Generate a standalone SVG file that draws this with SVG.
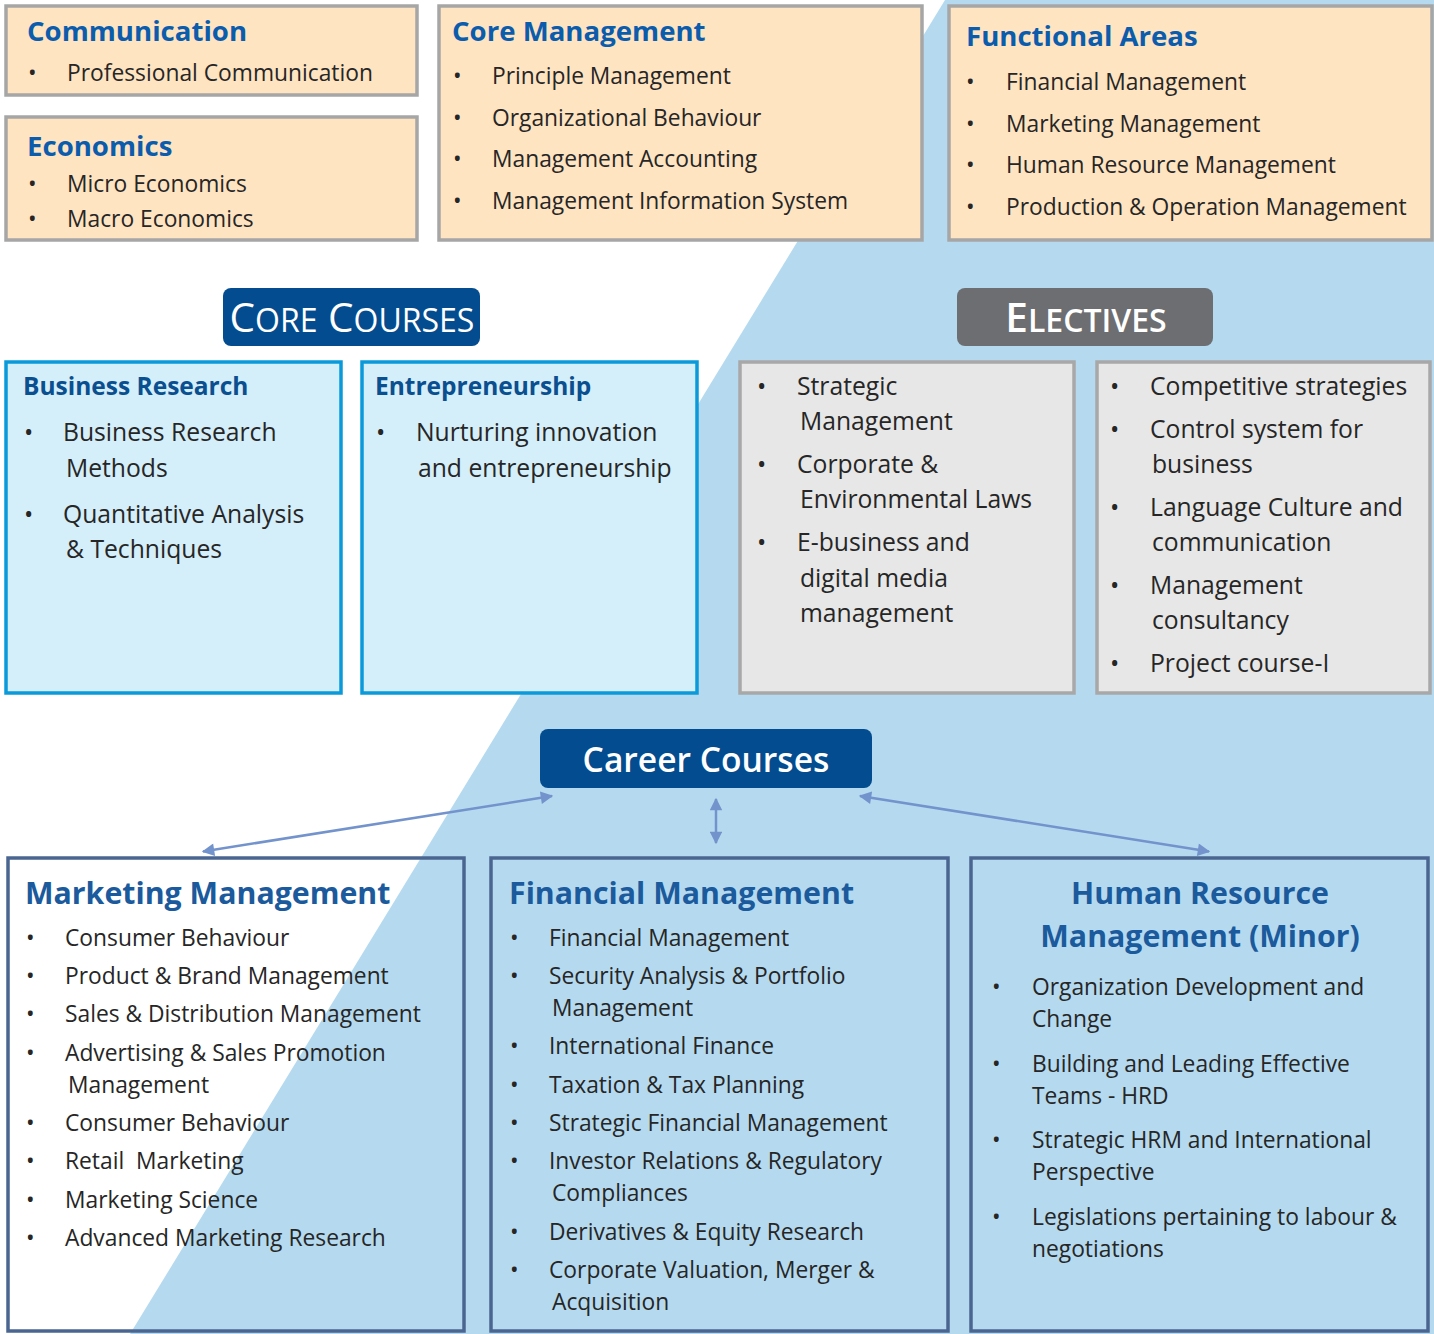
<svg xmlns="http://www.w3.org/2000/svg" width="1434" height="1334" viewBox="0 0 1434 1334">
<defs>
<style>
text{font-family:"Open Sans","Noto Sans","DejaVu Sans",sans-serif;fill:#262626;font-size:22.8px}
.peach{fill:#FFE4C2;stroke:#A6A6A6;stroke-width:3.5}
.cbox{fill:#D4EEFA;stroke:#0A9ADA;stroke-width:3.5}
.ebox{fill:#E7E7E7;stroke:#A8A8A8;stroke-width:3.5}
.bbox{fill:none;stroke:#4B6591;stroke-width:3.5}
.t1{font-weight:bold;fill:#0B5CAD;font-size:27.6px}
.t2{font-weight:bold;fill:#0A4F8F;font-size:24.5px}
.t3{font-weight:bold;fill:#1B5A9C;font-size:30.3px}
.big{font-size:24.7px}
.pill{fill:#034C8F}
.conn{stroke:#7393CC;stroke-width:2.5;fill:none;marker-start:url(#ah);marker-end:url(#ah)}
</style>
<marker id="ah" viewBox="0 0 10 10" refX="9" refY="5" markerWidth="6" markerHeight="5" orient="auto-start-reverse" markerUnits="strokeWidth">
<path d="M0,0 L10,5 L0,10 z" fill="#7393CC"/>
</marker>
</defs>
<rect x="0" y="0" width="1434" height="1334" fill="#FFFFFF"/>
<polygon points="945,0 1434,0 1434,1334 130,1334" fill="#B5DAEF"/>

<g id="communication">
<rect class="peach" x="6" y="6" width="411" height="89"/>
<text class="t1" x="27" y="41">Communication</text>
<text x="28" y="81">•</text><text x="67" y="81">Professional Communication</text>
</g>
<g id="economics">
<rect class="peach" x="6" y="117" width="411" height="123"/>
<text class="t1" x="27" y="156">Economics</text>
<text x="28" y="192">•</text><text x="67" y="192">Micro Economics</text>
<text x="28" y="227">•</text><text x="67" y="227">Macro Economics</text>
</g>
<g id="core-management">
<rect class="peach" x="439" y="6" width="483" height="234"/>
<text class="t1" x="452" y="41">Core Management</text>
<text x="453" y="84">•</text><text x="492" y="84">Principle Management</text>
<text x="453" y="126">•</text><text x="492" y="126">Organizational Behaviour</text>
<text x="453" y="167">•</text><text x="492" y="167">Management Accounting</text>
<text x="453" y="209">•</text><text x="492" y="209">Management Information System</text>
</g>
<g id="functional-areas">
<rect class="peach" x="949" y="6" width="483" height="234"/>
<text class="t1" x="966" y="46">Functional Areas</text>
<text x="966" y="90">•</text><text x="1006" y="90">Financial Management</text>
<text x="966" y="132">•</text><text x="1006" y="132">Marketing Management</text>
<text x="966" y="173">•</text><text x="1006" y="173">Human Resource Management</text>
<text x="966" y="215">•</text><text x="1006" y="215">Production &amp; Operation Management</text>
</g>

<g id="core-courses">
<rect class="pill" x="223" y="288" width="257" height="58" rx="8"/>
<text x="352" y="332" text-anchor="middle" style="fill:#FFFFFF;font-size:40.5px"><tspan>C</tspan><tspan style="font-size:32px">ORE</tspan> <tspan>C</tspan><tspan style="font-size:32px">OURSES</tspan></text>
</g>
<g id="electives">
<rect x="957" y="288" width="256" height="58" rx="8" fill="#6D6E71"/>
<text x="1086" y="332" text-anchor="middle" style="fill:#FFFFFF;font-size:40.5px;font-weight:600"><tspan>E</tspan><tspan style="font-size:32px">LECTIVES</tspan></text>
</g>

<g id="business-research">
<rect class="cbox" x="6" y="362" width="335" height="331"/>
<text class="t2" x="23" y="395">Business Research</text>
<text class="big" x="24" y="441">•</text><text class="big" x="63" y="441">Business Research</text>
<text class="big" x="66" y="477">Methods</text>
<text class="big" x="24" y="523">•</text><text class="big" x="63" y="523">Quantitative Analysis</text>
<text class="big" x="66" y="558">&amp; Techniques</text>
</g>
<g id="entrepreneurship">
<rect class="cbox" x="362" y="362" width="335" height="331"/>
<text class="t2" x="375" y="395">Entrepreneurship</text>
<text class="big" x="376" y="441">•</text><text class="big" x="416" y="441">Nurturing innovation</text>
<text class="big" x="418" y="477">and entrepreneurship</text>
</g>
<g id="electives-1">
<rect class="ebox" x="740" y="362" width="334" height="331"/>
<text class="big" x="757" y="395">•</text><text class="big" x="797" y="395">Strategic</text>
<text class="big" x="800" y="430">Management</text>
<text class="big" x="757" y="473">•</text><text class="big" x="797" y="473">Corporate &amp;</text>
<text class="big" x="800" y="508">Environmental Laws</text>
<text class="big" x="757" y="551">•</text><text class="big" x="797" y="551">E-business and</text>
<text class="big" x="800" y="587">digital media</text>
<text class="big" x="800" y="622">management</text>
</g>
<g id="electives-2">
<rect class="ebox" x="1097" y="362" width="333" height="331"/>
<text class="big" x="1110" y="395">•</text><text class="big" x="1150" y="395">Competitive strategies</text>
<text class="big" x="1110" y="438">•</text><text class="big" x="1150" y="438">Control system for</text>
<text class="big" x="1152" y="473">business</text>
<text class="big" x="1110" y="516">•</text><text class="big" x="1150" y="516">Language Culture and</text>
<text class="big" x="1152" y="551">communication</text>
<text class="big" x="1110" y="594">•</text><text class="big" x="1150" y="594">Management</text>
<text class="big" x="1152" y="629">consultancy</text>
<text class="big" x="1110" y="672">•</text><text class="big" x="1150" y="672">Project course-I</text>
</g>

<g id="career-courses">
<rect class="pill" x="540" y="729" width="332" height="59" rx="8"/>
<text x="706" y="772" text-anchor="middle" style="fill:#FFFFFF;font-size:33.6px;font-weight:600">Career Courses</text>
</g>

<g id="connectors">
<line class="conn" x1="203" y1="851.5" x2="552" y2="796"/>
<line class="conn" x1="716" y1="799" x2="716" y2="843"/>
<line class="conn" x1="860" y1="796" x2="1209" y2="851.5"/>
</g>

<g id="marketing-management">
<rect class="bbox" x="8" y="858" width="456" height="473"/>
<text class="t3" x="25" y="904">Marketing Management</text>
<text x="26" y="946">•</text><text x="65" y="946">Consumer Behaviour</text>
<text x="26" y="984">•</text><text x="65" y="984">Product &amp; Brand Management</text>
<text x="26" y="1022">•</text><text x="65" y="1022">Sales &amp; Distribution Management</text>
<text x="26" y="1061">•</text><text x="65" y="1061">Advertising &amp; Sales Promotion</text>
<text x="68" y="1093">Management</text>
<text x="26" y="1131">•</text><text x="65" y="1131">Consumer Behaviour</text>
<text x="26" y="1169">•</text><text x="65" y="1169" xml:space="preserve" style="white-space:pre">Retail  Marketing</text>
<text x="26" y="1208">•</text><text x="65" y="1208">Marketing Science</text>
<text x="26" y="1246">•</text><text x="65" y="1246">Advanced Marketing Research</text>
</g>
<g id="financial-management">
<rect class="bbox" x="491" y="858" width="457" height="473"/>
<text class="t3" x="509" y="904">Financial Management</text>
<text x="510" y="946">•</text><text x="549" y="946">Financial Management</text>
<text x="510" y="984">•</text><text x="549" y="984">Security Analysis &amp; Portfolio</text>
<text x="552" y="1016">Management</text>
<text x="510" y="1054">•</text><text x="549" y="1054">International Finance</text>
<text x="510" y="1093">•</text><text x="549" y="1093">Taxation &amp; Tax Planning</text>
<text x="510" y="1131">•</text><text x="549" y="1131">Strategic Financial Management</text>
<text x="510" y="1169">•</text><text x="549" y="1169">Investor Relations &amp; Regulatory</text>
<text x="552" y="1201">Compliances</text>
<text x="510" y="1240">•</text><text x="549" y="1240">Derivatives &amp; Equity Research</text>
<text x="510" y="1278">•</text><text x="549" y="1278">Corporate Valuation, Merger &amp;</text>
<text x="552" y="1310">Acquisition</text>
</g>
<g id="hr-management">
<rect class="bbox" x="971" y="858" width="457" height="473"/>
<text class="t3" x="1200" y="904" text-anchor="middle">Human Resource</text>
<text class="t3" x="1200" y="947" text-anchor="middle">Management (Minor)</text>
<text x="992" y="995">•</text><text x="1032" y="995">Organization Development and</text>
<text x="1032" y="1027">Change</text>
<text x="992" y="1072">•</text><text x="1032" y="1072">Building and Leading Effective</text>
<text x="1032" y="1104">Teams - HRD</text>
<text x="992" y="1148">•</text><text x="1032" y="1148">Strategic HRM and International</text>
<text x="1032" y="1180">Perspective</text>
<text x="992" y="1225">•</text><text x="1032" y="1225">Legislations pertaining to labour &amp;</text>
<text x="1032" y="1257">negotiations</text>
</g>
</svg>
